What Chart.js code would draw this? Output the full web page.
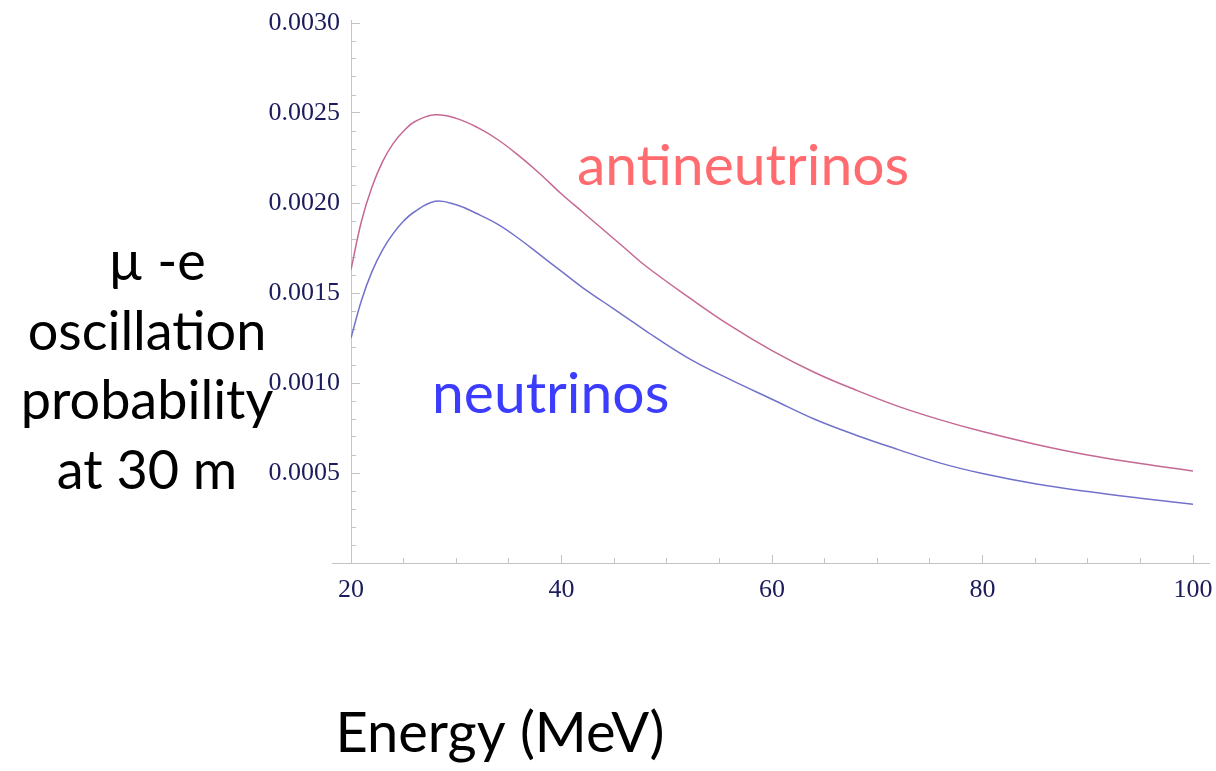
<!DOCTYPE html>
<html>
<head>
<meta charset="utf-8">
<title>mu-e oscillation probability</title>
<script src="https://cdn.jsdelivr.net/npm/chart.js@4.4.0/dist/chart.umd.min.js"></script>
<style>
    html, body { margin: 0; padding: 0; background: #fff; }
    #wrap { width: 1216px; height: 771px; }
</style>
</head>
<body>
<div id="wrap"><canvas id="probChart" width="1216" height="771"></canvas></div>
<script>
// Energy grid (MeV) and probabilities
var energy = [20, 21, 22, 23, 24, 25, 26, 28, 30, 32, 34, 36, 38, 40, 42, 44, 46, 48,
              52, 56, 60, 64, 68, 72, 76, 80, 85, 90, 95, 100];
var antineutrinos = [0.00163, 0.00190, 0.00209, 0.00223, 0.00233, 0.00240, 0.00245, 0.00249,
                     0.00247, 0.00242, 0.00235, 0.00226, 0.00216, 0.00205, 0.00195, 0.00185,
                     0.00175, 0.00165, 0.00148, 0.00132, 0.00118, 0.00106, 0.00096, 0.00087,
                     0.000795, 0.00073, 0.00066, 0.000600, 0.000553, 0.000511];
var neutrinos = [0.00125, 0.00146, 0.00162, 0.00174, 0.00183, 0.00190, 0.00195, 0.00201,
                 0.00199, 0.00194, 0.00188, 0.00180, 0.00171, 0.00162, 0.00153, 0.00145,
                 0.00137, 0.00129, 0.00114, 0.00102, 0.00091, 0.00080, 0.00071, 0.00063,
                 0.000555, 0.000497, 0.00044, 0.000397, 0.00036, 0.000326];

var xMajorStep = 20, xMinorStep = 5;
var yMajorStep = 0.0005, yMinorStep = 0.0001;
var yTitleLines = ['\u00b5 -e', 'oscillation', 'probability', 'at 30 m'];
var xTitle = 'Energy (MeV)';

var axisColor = '#c4c4c4';
var tickLabelColor = '#1c1c5c';

function toPoints(xs, ys) {
    return xs.map(function (x, i) { return { x: x, y: ys[i] }; });
}

// keep the plot area exactly where the layout padding puts it
function noLabelOverflow(scale) {
    scale.paddingLeft = 0;
    scale.paddingRight = 0;
    scale.paddingTop = 0;
    scale.paddingBottom = 0;
}

// Titles, curve labels and the slightly longer axis lines
var annotate = {
    id: 'annotate',
    afterDraw: function (chart) {
        var c = chart.ctx;
        var area = chart.chartArea;
        c.save();

        c.strokeStyle = axisColor;
        c.lineWidth = 1;
        var yb = Math.round(area.bottom) + 0.5;
        var xl = Math.round(area.left) + 0.5;
        c.beginPath();
        c.moveTo(area.left - 19, yb);
        c.lineTo(area.right + 17, yb);
        c.moveTo(xl, area.top - 3);
        c.lineTo(xl, area.top);
        c.stroke();

        c.fillStyle = '#000';
        c.textBaseline = 'alphabetic';
        c.textAlign = 'center';
        c.font = '54px Lato';
        yTitleLines.forEach(function (line, i) {
            c.fillText(line, i === 0 ? 157 : 147, 280 + i * 69.5);
        });
        c.font = '56px Lato';
        c.fillText(xTitle, 500, 752);

        c.textAlign = 'left';
        c.font = '57px Lato';
        c.fillStyle = '#ff6b6e';
        c.fillText('antineutrinos', 577, 185);
        c.fillStyle = '#3c3cff';
        c.fillText('neutrinos', 432, 413);
        c.restore();
    }
};

var ctx = document.getElementById('probChart').getContext('2d');
new Chart(ctx, {
    type: 'line',
    data: {
        datasets: [
            {
                label: 'antineutrinos',
                data: toPoints(energy, antineutrinos),
                borderColor: '#c66894',
                borderWidth: 1.5,
                pointRadius: 0,
                tension: 0.4,
                xAxisID: 'x',
                yAxisID: 'y'
            },
            {
                label: 'neutrinos',
                data: toPoints(energy, neutrinos),
                borderColor: '#7272cc',
                borderWidth: 1.5,
                pointRadius: 0,
                tension: 0.4,
                xAxisID: 'x',
                yAxisID: 'y'
            }
        ]
    },
    options: {
        responsive: false,
        animation: false,
        layout: { padding: { top: 23, right: 23, left: 0, bottom: 0 } },
        plugins: {
            legend: { display: false },
            tooltip: { enabled: false }
        },
        scales: {
            x: {
                type: 'linear',
                position: 'bottom',
                min: 20,
                max: 100,
                afterFit: function (scale) {
                    scale.height = 208;
                    noLabelOverflow(scale);
                },
                ticks: {
                    stepSize: xMajorStep,
                    autoSkip: false,
                    maxRotation: 0,
                    padding: 20,
                    color: tickLabelColor,
                    font: { family: 'Liberation Serif', size: 26 }
                },
                grid: { drawOnChartArea: false, tickLength: -8, tickColor: axisColor },
                border: { display: false }
            },
            xMinor: {
                type: 'linear',
                axis: 'x',
                position: { y: 0 },
                min: 20,
                max: 100,
                afterFit: noLabelOverflow,
                ticks: { display: false, stepSize: xMinorStep, autoSkip: false },
                grid: { drawOnChartArea: false, tickLength: -5, tickColor: axisColor },
                border: { display: false }
            },
            y: {
                type: 'linear',
                position: 'left',
                min: 0,
                max: 0.003,
                afterFit: function (scale) {
                    scale.width = 351;
                    noLabelOverflow(scale);
                },
                ticks: {
                    stepSize: yMajorStep,
                    autoSkip: false,
                    padding: 20,
                    color: tickLabelColor,
                    font: { family: 'Liberation Serif', size: 26 },
                    callback: function (value) {
                        if (Math.abs(value) < 1e-9) return '';
                        return value.toFixed(4);
                    }
                },
                grid: { drawOnChartArea: false, tickLength: -9, tickColor: axisColor },
                border: { color: axisColor, width: 1 }
            },
            yMinor: {
                type: 'linear',
                axis: 'y',
                position: { x: 20 },
                min: 0,
                max: 0.003,
                afterFit: noLabelOverflow,
                ticks: { display: false, stepSize: yMinorStep, autoSkip: false },
                grid: { drawOnChartArea: false, tickLength: -5, tickColor: axisColor },
                border: { display: false }
            }
        }
    },
    plugins: [annotate]
});
</script>
</body>
</html>
